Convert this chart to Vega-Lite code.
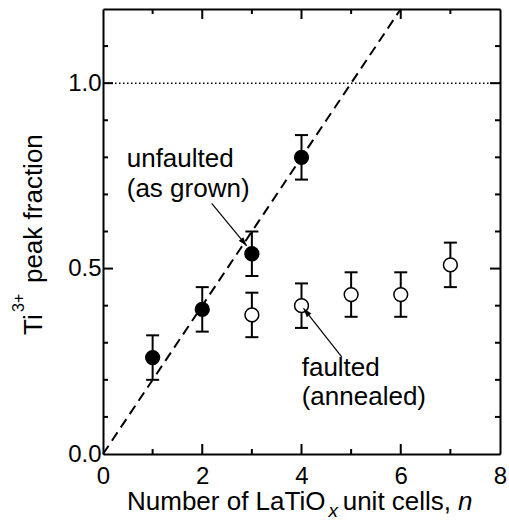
{
  "$schema": "https://vega.github.io/schema/vega-lite/v6.json",
  "width": 397,
  "height": 445,
  "autosize": {"type": "none"},
  "padding": {"left": 103, "top": 9, "right": 9, "bottom": 68},
  "background": "white",
  "config": {
    "view": {"stroke": null},
    "font": "Liberation Sans",
    "axis": {"domainColor": "black", "domainWidth": 2, "ticks": false, "tickSize": 0, "grid": false, "labelFont": "Liberation Sans", "labelFontSize": 24, "labelColor": "black", "labelFlush": false, "labelOverlap": false, "title": null},
    "text": {"font": "Liberation Sans", "color": "black"}
  },
  "datasets": {
    "points": [
      {"n": 1, "frac": 0.26, "lo": 0.20, "hi": 0.32, "sample": "unfaulted"},
      {"n": 2, "frac": 0.39, "lo": 0.33, "hi": 0.45, "sample": "unfaulted"},
      {"n": 3, "frac": 0.54, "lo": 0.48, "hi": 0.60, "sample": "unfaulted"},
      {"n": 4, "frac": 0.80, "lo": 0.74, "hi": 0.86, "sample": "unfaulted"},
      {"n": 3, "frac": 0.375, "lo": 0.315, "hi": 0.435, "sample": "faulted"},
      {"n": 4, "frac": 0.40, "lo": 0.34, "hi": 0.46, "sample": "faulted"},
      {"n": 5, "frac": 0.43, "lo": 0.37, "hi": 0.49, "sample": "faulted"},
      {"n": 6, "frac": 0.43, "lo": 0.37, "hi": 0.49, "sample": "faulted"},
      {"n": 7, "frac": 0.51, "lo": 0.45, "hi": 0.57, "sample": "faulted"}
    ],
    "arrows": [
      {"id": "a", "x": 2.19, "y": 0.676, "x2": 2.896, "y2": 0.561},
      {"id": "b", "x": 4.81, "y": 0.262, "x2": 4.04, "y2": 0.393}
    ],
    "xmajor": [{"v": 2}, {"v": 4}, {"v": 6}],
    "xminor": [{"v": 1}, {"v": 3}, {"v": 5}, {"v": 7}],
    "ymajor": [{"v": 0.5}, {"v": 1.0}],
    "yminor": [{"v": 0.1}, {"v": 0.2}, {"v": 0.3}, {"v": 0.4}, {"v": 0.6}, {"v": 0.7}, {"v": 0.8}, {"v": 0.9}, {"v": 1.1}]
  },
  "resolve": {"axis": {"x": "independent", "y": "independent"}},
  "layer": [
    {
      "data": {"values": [{"x": 0, "x2": 8, "y": 1}]},
      "mark": {"type": "rule", "strokeDash": [1.5, 2.5], "strokeWidth": 1.5, "color": "black"},
      "encoding": {
        "x": {"field": "x", "type": "quantitative", "scale": {"domain": [0, 8], "nice": false, "zero": false},
          "axis": {"orient": "bottom", "values": [0, 2, 4, 6, 8], "labelPadding": 10}},
        "x2": {"field": "x2"},
        "y": {"field": "y", "type": "quantitative", "scale": {"domain": [0, 1.2], "nice": false, "zero": false},
          "axis": {"orient": "left", "values": [0, 0.5, 1.0], "format": ".1f", "labelPadding": 2}}
      }
    },
    {
      "data": {"values": [{"x": 0, "y": 0}, {"x": 6, "y": 1.2}]},
      "mark": {"type": "line", "strokeDash": [10, 6], "strokeWidth": 2, "color": "black"},
      "encoding": {
        "x": {"field": "x", "type": "quantitative", "scale": {"domain": [0, 8], "nice": false, "zero": false},
          "axis": {"orient": "top", "values": [0, 8], "labels": false}},
        "y": {"field": "y", "type": "quantitative", "scale": {"domain": [0, 1.2], "nice": false, "zero": false},
          "axis": {"orient": "right", "values": [0, 1.2], "labels": false}}
      }
    },
    {
      "data": {"name": "xmajor"},
      "mark": {"type": "rule", "color": "black", "strokeWidth": 2},
      "encoding": {
        "x": {"field": "v", "type": "quantitative", "scale": {"domain": [0, 8], "nice": false, "zero": false}, "axis": null},
        "y": {"datum": 0, "type": "quantitative", "scale": {"domain": [0, 1.2], "nice": false, "zero": false}, "axis": null},
        "y2": {"datum": 0.027}
      }
    },
    {
      "data": {"name": "xminor"},
      "mark": {"type": "rule", "color": "black", "strokeWidth": 2},
      "encoding": {
        "x": {"field": "v", "type": "quantitative", "scale": {"domain": [0, 8], "nice": false, "zero": false}, "axis": null},
        "y": {"datum": 0, "type": "quantitative", "scale": {"domain": [0, 1.2], "nice": false, "zero": false}, "axis": null},
        "y2": {"datum": 0.0135}
      }
    },
    {
      "data": {"name": "xmajor"},
      "mark": {"type": "rule", "color": "black", "strokeWidth": 2},
      "encoding": {
        "x": {"field": "v", "type": "quantitative", "scale": {"domain": [0, 8], "nice": false, "zero": false}, "axis": null},
        "y": {"datum": 1.2, "type": "quantitative", "scale": {"domain": [0, 1.2], "nice": false, "zero": false}, "axis": null},
        "y2": {"datum": 1.173}
      }
    },
    {
      "data": {"name": "xminor"},
      "mark": {"type": "rule", "color": "black", "strokeWidth": 2},
      "encoding": {
        "x": {"field": "v", "type": "quantitative", "scale": {"domain": [0, 8], "nice": false, "zero": false}, "axis": null},
        "y": {"datum": 1.2, "type": "quantitative", "scale": {"domain": [0, 1.2], "nice": false, "zero": false}, "axis": null},
        "y2": {"datum": 1.1865}
      }
    },
    {
      "data": {"name": "ymajor"},
      "mark": {"type": "rule", "color": "black", "strokeWidth": 2},
      "encoding": {
        "y": {"field": "v", "type": "quantitative", "scale": {"domain": [0, 1.2], "nice": false, "zero": false}, "axis": null},
        "x": {"datum": 0, "type": "quantitative", "scale": {"domain": [0, 8], "nice": false, "zero": false}, "axis": null},
        "x2": {"datum": 0.2015}
      }
    },
    {
      "data": {"name": "yminor"},
      "mark": {"type": "rule", "color": "black", "strokeWidth": 2},
      "encoding": {
        "y": {"field": "v", "type": "quantitative", "scale": {"domain": [0, 1.2], "nice": false, "zero": false}, "axis": null},
        "x": {"datum": 0, "type": "quantitative", "scale": {"domain": [0, 8], "nice": false, "zero": false}, "axis": null},
        "x2": {"datum": 0.1008}
      }
    },
    {
      "data": {"name": "ymajor"},
      "mark": {"type": "rule", "color": "black", "strokeWidth": 2},
      "encoding": {
        "y": {"field": "v", "type": "quantitative", "scale": {"domain": [0, 1.2], "nice": false, "zero": false}, "axis": null},
        "x": {"datum": 8, "type": "quantitative", "scale": {"domain": [0, 8], "nice": false, "zero": false}, "axis": null},
        "x2": {"datum": 7.7985}
      }
    },
    {
      "data": {"name": "yminor"},
      "mark": {"type": "rule", "color": "black", "strokeWidth": 2},
      "encoding": {
        "y": {"field": "v", "type": "quantitative", "scale": {"domain": [0, 1.2], "nice": false, "zero": false}, "axis": null},
        "x": {"datum": 8, "type": "quantitative", "scale": {"domain": [0, 8], "nice": false, "zero": false}, "axis": null},
        "x2": {"datum": 7.8992}
      }
    },
    {
      "data": {"name": "points"},
      "mark": {"type": "rule", "strokeWidth": 2, "color": "black"},
      "encoding": {
        "x": {"field": "n", "type": "quantitative", "scale": {"domain": [0, 8], "nice": false, "zero": false}, "axis": null},
        "y": {"field": "lo", "type": "quantitative", "scale": {"domain": [0, 1.2], "nice": false, "zero": false}, "axis": null},
        "y2": {"field": "hi"}
      }
    },
    {
      "data": {"name": "points"},
      "mark": {"type": "tick", "orient": "horizontal", "size": 13, "thickness": 2, "color": "black", "opacity": 1},
      "encoding": {
        "x": {"field": "n", "type": "quantitative", "scale": {"domain": [0, 8], "nice": false, "zero": false}, "axis": null},
        "y": {"field": "lo", "type": "quantitative", "scale": {"domain": [0, 1.2], "nice": false, "zero": false}, "axis": null}
      }
    },
    {
      "data": {"name": "points"},
      "mark": {"type": "tick", "orient": "horizontal", "size": 13, "thickness": 2, "color": "black", "opacity": 1},
      "encoding": {
        "x": {"field": "n", "type": "quantitative", "scale": {"domain": [0, 8], "nice": false, "zero": false}, "axis": null},
        "y": {"field": "hi", "type": "quantitative", "scale": {"domain": [0, 1.2], "nice": false, "zero": false}, "axis": null}
      }
    },
    {
      "data": {"name": "points"},
      "mark": {"type": "point", "shape": "circle", "size": 190, "filled": true, "stroke": "black", "strokeWidth": 1.5, "opacity": 1, "fillOpacity": 1, "strokeOpacity": 1},
      "encoding": {
        "x": {"field": "n", "type": "quantitative", "scale": {"domain": [0, 8], "nice": false, "zero": false}, "axis": null},
        "y": {"field": "frac", "type": "quantitative", "scale": {"domain": [0, 1.2], "nice": false, "zero": false}, "axis": null},
        "fill": {"field": "sample", "type": "nominal", "scale": {"domain": ["unfaulted", "faulted"], "range": ["black", "white"]}, "legend": null}
      }
    },
    {
      "data": {"name": "arrows"},
      "mark": {"type": "rule", "strokeWidth": 1.2, "color": "black"},
      "encoding": {
        "x": {"field": "x", "type": "quantitative", "scale": {"domain": [0, 8], "nice": false, "zero": false}, "axis": null},
        "y": {"field": "y", "type": "quantitative", "scale": {"domain": [0, 1.2], "nice": false, "zero": false}, "axis": null},
        "x2": {"field": "x2"},
        "y2": {"field": "y2"}
      }
    },
    {
      "data": {"name": "arrows"},
      "transform": [{"filter": "datum.id == 'a'"}],
      "mark": {"type": "point", "shape": "M0,0L-0.32,1L0.32,1Z", "size": 324, "filled": true, "color": "black", "strokeWidth": 0, "opacity": 1, "angle": 141},
      "encoding": {
        "x": {"field": "x2", "type": "quantitative", "scale": {"domain": [0, 8], "nice": false, "zero": false}, "axis": null},
        "y": {"field": "y2", "type": "quantitative", "scale": {"domain": [0, 1.2], "nice": false, "zero": false}, "axis": null}
      }
    },
    {
      "data": {"name": "arrows"},
      "transform": [{"filter": "datum.id == 'b'"}],
      "mark": {"type": "point", "shape": "M0,0L-0.32,1L0.32,1Z", "size": 324, "filled": true, "color": "black", "strokeWidth": 0, "opacity": 1, "angle": 322},
      "encoding": {
        "x": {"field": "x2", "type": "quantitative", "scale": {"domain": [0, 8], "nice": false, "zero": false}, "axis": null},
        "y": {"field": "y2", "type": "quantitative", "scale": {"domain": [0, 1.2], "nice": false, "zero": false}, "axis": null}
      }
    },
    {
      "data": {"values": [
        {"label": "unfaulted", "x": 0.478, "y": 0.775},
        {"label": "(as grown)", "x": 0.478, "y": 0.694},
        {"label": "faulted", "x": 4.004, "y": 0.21},
        {"label": "(annealed)", "x": 4.004, "y": 0.132}
      ]},
      "mark": {"type": "text", "align": "left", "baseline": "alphabetic", "fontSize": 26, "color": "black"},
      "encoding": {
        "x": {"field": "x", "type": "quantitative", "scale": {"domain": [0, 8], "nice": false, "zero": false}, "axis": null},
        "y": {"field": "y", "type": "quantitative", "scale": {"domain": [0, 1.2], "nice": false, "zero": false}, "axis": null},
        "text": {"field": "label"}
      }
    },
    {
      "data": {"values": [
        {"label": "Number of LaTiO", "x": 0.484, "y": -0.151},
        {"label": "unit cells,", "x": 4.83, "y": -0.151}
      ]},
      "mark": {"type": "text", "align": "left", "baseline": "alphabetic", "fontSize": 26, "color": "black"},
      "encoding": {
        "x": {"field": "x", "type": "quantitative", "scale": {"domain": [0, 8], "nice": false, "zero": false}, "axis": null},
        "y": {"field": "y", "type": "quantitative", "scale": {"domain": [0, 1.2], "nice": false, "zero": false}, "axis": null},
        "text": {"field": "label"}
      }
    },
    {
      "data": {"values": [{"label": "x", "x": 4.544, "y": -0.17}]},
      "mark": {"type": "text", "align": "left", "baseline": "alphabetic", "fontSize": 19, "fontStyle": "italic", "color": "black"},
      "encoding": {
        "x": {"field": "x", "type": "quantitative", "scale": {"domain": [0, 8], "nice": false, "zero": false}, "axis": null},
        "y": {"field": "y", "type": "quantitative", "scale": {"domain": [0, 1.2], "nice": false, "zero": false}, "axis": null},
        "text": {"field": "label"}
      }
    },
    {
      "data": {"values": [{"label": "n", "x": 7.154, "y": -0.151}]},
      "mark": {"type": "text", "align": "left", "baseline": "alphabetic", "fontSize": 26, "fontStyle": "italic", "color": "black"},
      "encoding": {
        "x": {"field": "x", "type": "quantitative", "scale": {"domain": [0, 8], "nice": false, "zero": false}, "axis": null},
        "y": {"field": "y", "type": "quantitative", "scale": {"domain": [0, 1.2], "nice": false, "zero": false}, "axis": null},
        "text": {"field": "label"}
      }
    },
    {
      "data": {"values": [
        {"label": "Ti", "x": -1.229, "y": 0.321},
        {"label": "peak fraction", "x": -1.229, "y": 0.461}
      ]},
      "mark": {"type": "text", "align": "left", "baseline": "alphabetic", "fontSize": 26, "angle": 270, "color": "black"},
      "encoding": {
        "x": {"field": "x", "type": "quantitative", "scale": {"domain": [0, 8], "nice": false, "zero": false}, "axis": null},
        "y": {"field": "y", "type": "quantitative", "scale": {"domain": [0, 1.2], "nice": false, "zero": false}, "axis": null},
        "text": {"field": "label"}
      }
    },
    {
      "data": {"values": [{"label": "3+", "x": -1.592, "y": 0.383}]},
      "mark": {"type": "text", "align": "left", "baseline": "alphabetic", "fontSize": 16, "angle": 270, "color": "black"},
      "encoding": {
        "x": {"field": "x", "type": "quantitative", "scale": {"domain": [0, 8], "nice": false, "zero": false}, "axis": null},
        "y": {"field": "y", "type": "quantitative", "scale": {"domain": [0, 1.2], "nice": false, "zero": false}, "axis": null},
        "text": {"field": "label"}
      }
    }
  ]
}
